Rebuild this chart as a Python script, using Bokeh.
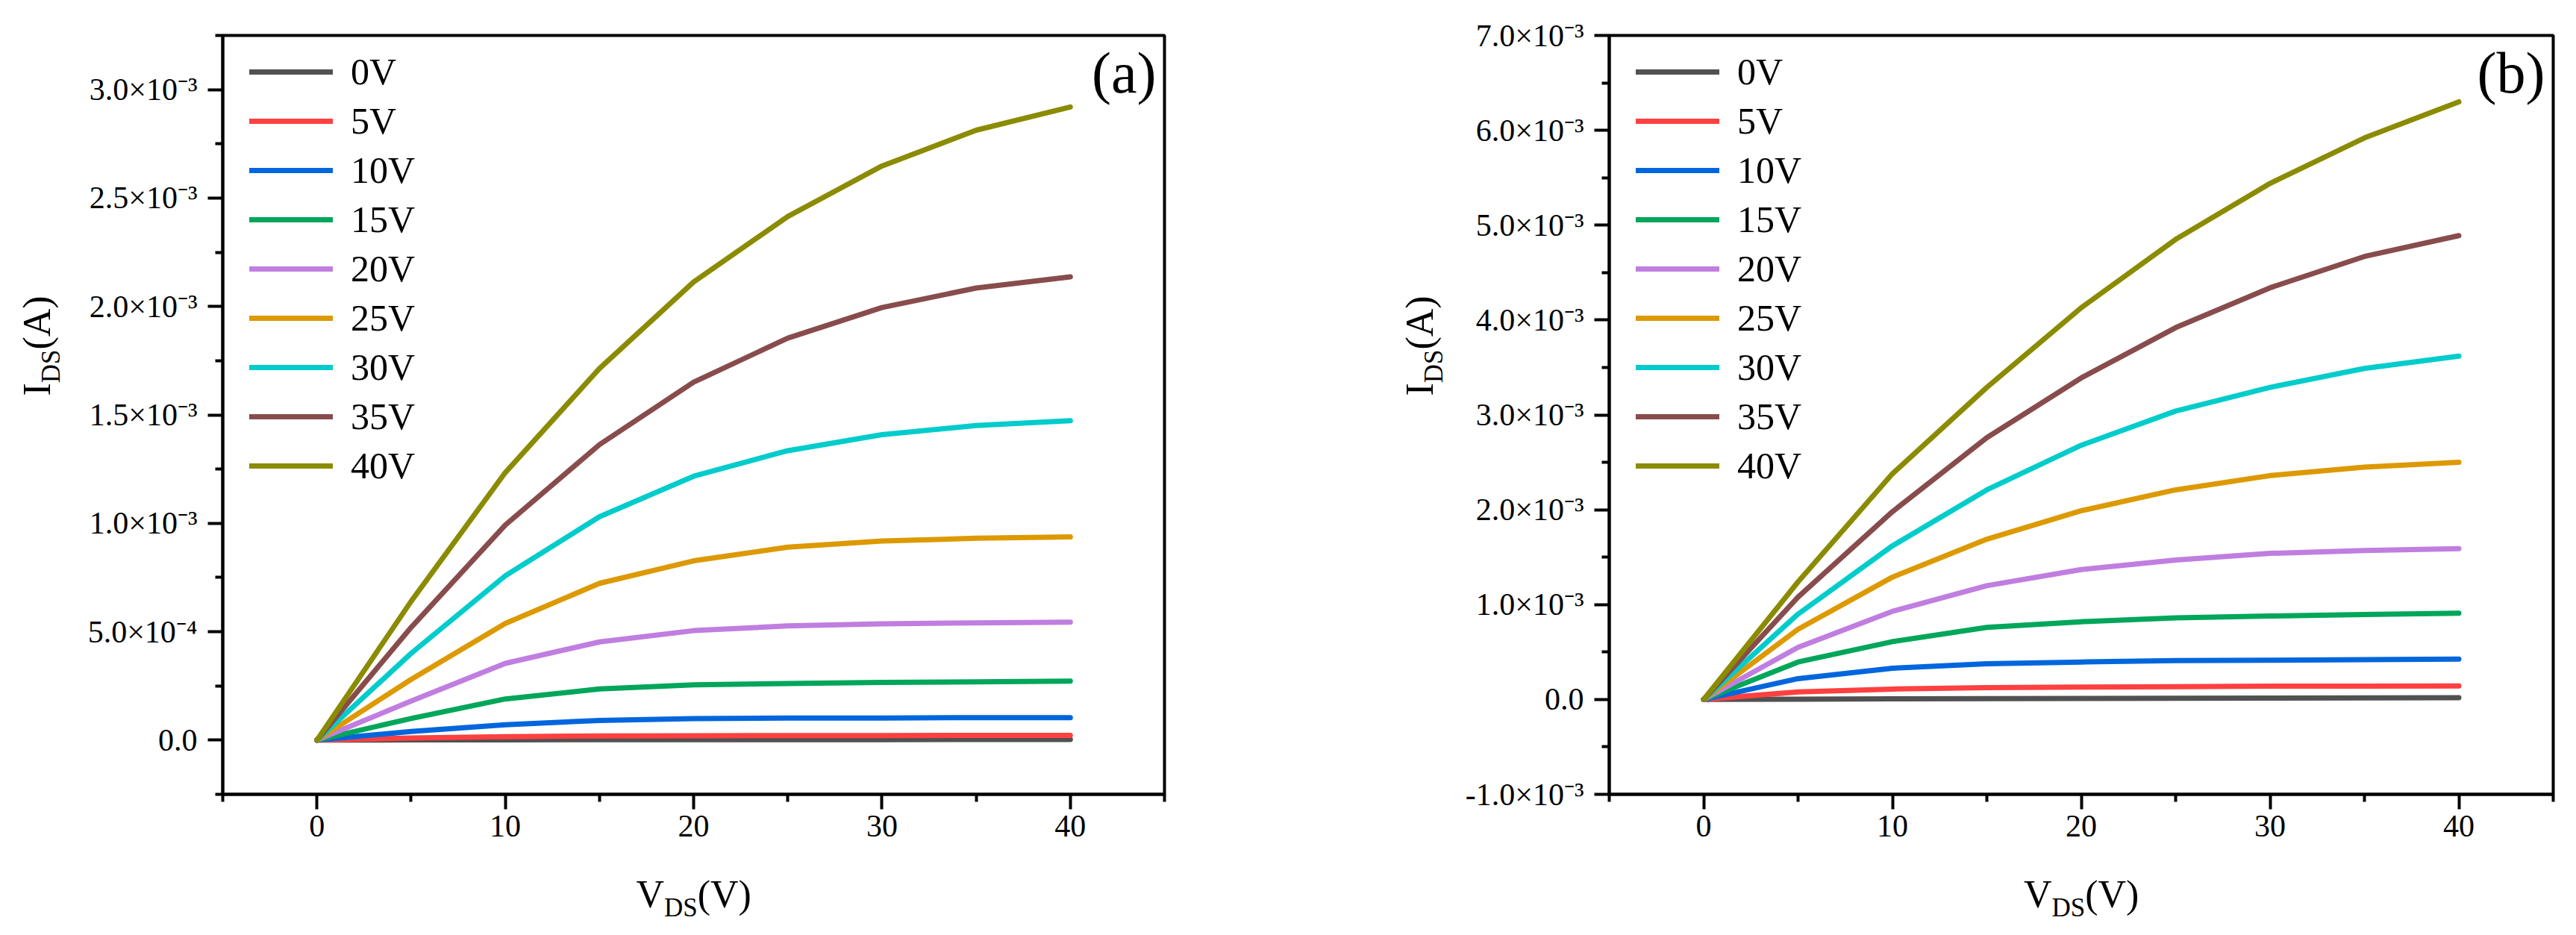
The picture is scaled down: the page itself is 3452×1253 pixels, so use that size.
import math
from bokeh.plotting import figure
from bokeh.models import Range1d, FixedTicker, Legend, LegendItem, Label
from bokeh.layouts import row, column
from bokeh.embed import file_html
from bokeh.resources import INLINE

# ---------------- data ----------------
vds = [0, 5, 10, 15, 20, 25, 30, 35, 40]
vgs_labels = ["0V", "5V", "10V", "15V", "20V", "25V", "30V", "35V", "40V"]
colors = ["#515151", "#FF4040", "#0066DD", "#00A65A", "#C07EE0",
          "#DD9900", "#00CCCC", "#884C4C", "#8B8B00"]

# panel (a) I_DS in A
a_0V = [0.0, 1.0e-6, 1.5e-6, 2.0e-6, 2.0e-6, 2.5e-6, 2.5e-6, 3.0e-6, 3.0e-6]
a_5V = [0.0, 1.0e-5, 1.6e-5, 1.9e-5, 2.0e-5, 2.1e-5, 2.1e-5, 2.2e-5, 2.2e-5]
a_10V = [0.0, 4.0e-5, 7.1e-5, 9.1e-5, 9.9e-5, 1.02e-4, 1.02e-4, 1.04e-4, 1.04e-4]
a_15V = [0.0, 1.0e-4, 1.90e-4, 2.36e-4, 2.55e-4, 2.61e-4, 2.66e-4, 2.69e-4, 2.72e-4]
a_20V = [0.0, 1.8e-4, 3.54e-4, 4.53e-4, 5.05e-4, 5.27e-4, 5.36e-4, 5.41e-4, 5.44e-4]
a_25V = [0.0, 2.8e-4, 5.38e-4, 7.23e-4, 8.27e-4, 8.90e-4, 9.18e-4, 9.31e-4, 9.37e-4]
a_30V = [0.0, 4.0e-4, 7.58e-4, 1.030e-3, 1.217e-3, 1.335e-3, 1.409e-3, 1.451e-3, 1.473e-3]
a_35V = [0.0, 5.2e-4, 9.92e-4, 1.363e-3, 1.651e-3, 1.854e-3, 1.995e-3, 2.085e-3, 2.137e-3]
a_40V = [0.0, 6.4e-4, 1.234e-3, 1.714e-3, 2.113e-3, 2.415e-3, 2.648e-3, 2.813e-3, 2.920e-3]

# panel (b) I_DS in A
b_0V = [0.0, 3.0e-6, 6.0e-6, 8.0e-6, 1.0e-5, 1.2e-5, 1.4e-5, 1.6e-5, 1.8e-5]
b_5V = [0.0, 8.0e-5, 1.10e-4, 1.25e-4, 1.30e-4, 1.35e-4, 1.40e-4, 1.40e-4, 1.42e-4]
b_10V = [0.0, 2.20e-4, 3.30e-4, 3.76e-4, 3.95e-4, 4.10e-4, 4.14e-4, 4.20e-4, 4.26e-4]
b_15V = [0.0, 3.95e-4, 6.10e-4, 7.60e-4, 8.20e-4, 8.60e-4, 8.80e-4, 8.95e-4, 9.10e-4]
b_20V = [0.0, 5.5e-4, 9.3e-4, 1.20e-3, 1.37e-3, 1.47e-3, 1.54e-3, 1.57e-3, 1.59e-3]
b_25V = [0.0, 7.4e-4, 1.29e-3, 1.69e-3, 1.99e-3, 2.21e-3, 2.36e-3, 2.45e-3, 2.50e-3]
b_30V = [0.0, 9.0e-4, 1.62e-3, 2.21e-3, 2.68e-3, 3.04e-3, 3.29e-3, 3.49e-3, 3.62e-3]
b_35V = [0.0, 1.08e-3, 1.98e-3, 2.76e-3, 3.39e-3, 3.92e-3, 4.34e-3, 4.67e-3, 4.89e-3]
b_40V = [0.0, 1.24e-3, 2.38e-3, 3.29e-3, 4.13e-3, 4.85e-3, 5.44e-3, 5.92e-3, 6.30e-3]

# axis ticks
x_major = [0, 10, 20, 30, 40]
x_minor = [-5, 5, 15, 25, 35, 45]
a_y_major = [0.0, 0.0005, 0.001, 0.0015, 0.002, 0.0025, 0.003]
a_y_labels = ["0.0", "5.0×10⁻⁴", "1.0×10⁻³", "1.5×10⁻³", "2.0×10⁻³", "2.5×10⁻³", "3.0×10⁻³"]
a_y_minor = [-0.00025, 0.00025, 0.00075, 0.00125, 0.00175, 0.00225, 0.00275, 0.00325]
b_y_major = [-0.001, 0.0, 0.001, 0.002, 0.003, 0.004, 0.005, 0.006, 0.007]
b_y_labels = ["-1.0×10⁻³", "0.0", "1.0×10⁻³", "2.0×10⁻³", "3.0×10⁻³", "4.0×10⁻³",
              "5.0×10⁻³", "6.0×10⁻³", "7.0×10⁻³"]
b_y_minor = [-0.0005, 0.0005, 0.0015, 0.0025, 0.0035, 0.0045, 0.0055, 0.0065]

FONT = "Liberation Serif"
FH = 1017          # frame height
TOP = 47           # border above frame
BOT = 100          # border below frame (tick labels)
MAIN_H = TOP + FH + BOT
XT_H = 81          # height of x-title strip


def blank_fig(w, h):
    f = figure(width=w, height=h, x_range=Range1d(0, w), y_range=Range1d(0, h),
               x_axis_type=None, y_axis_type=None, min_border=0,
               output_backend="svg", toolbar_location=None)
    f.outline_line_color = None
    f.xgrid.visible = False
    f.ygrid.visible = False
    f.background_fill_color = "white"
    f.border_fill_color = "white"
    return f


def lab(fig, x, y, text, size, angle=0.0, align="left"):
    fig.add_layout(Label(x=x, y=y, x_units="screen", y_units="screen", text=text,
                         angle=angle, text_font=FONT, text_font_size=f"{size}px",
                         text_color="black", text_align=align, text_baseline="middle"))


def make_main(series, y_lo, y_hi, y_major, y_labels, y_minor, left, fw, right, tag):
    p = figure(width=left + fw + right, height=MAIN_H,
               min_border_left=left, min_border_right=right,
               min_border_top=TOP, min_border_bottom=BOT,
               x_range=Range1d(-5, 45), y_range=Range1d(y_lo, y_hi),
               output_backend="svg", toolbar_location=None)
    p.xgrid.visible = False
    p.ygrid.visible = False
    p.background_fill_color = "white"
    p.border_fill_color = "white"
    p.outline_line_color = "black"
    p.outline_line_width = 4
    p.outline_line_alpha = 1.0

    p.xaxis.ticker = FixedTicker(ticks=x_major, minor_ticks=x_minor)
    p.yaxis.ticker = FixedTicker(ticks=y_major, minor_ticks=y_minor)
    p.yaxis.major_label_overrides = {v: s for v, s in zip(y_major, y_labels)}
    for ax in (p.xaxis[0], p.yaxis[0]):
        ax.axis_line_width = 4
        ax.axis_line_color = "black"
        ax.major_tick_line_width = 4
        ax.minor_tick_line_width = 4
        ax.major_tick_line_color = "black"
        ax.minor_tick_line_color = "black"
        ax.major_tick_in = 0
        ax.major_tick_out = 20
        ax.minor_tick_in = 0
        ax.minor_tick_out = 10
        ax.major_label_text_font = FONT
        ax.major_label_text_font_size = "42px"
        ax.major_label_text_color = "black"
    p.xaxis.major_label_standoff = 8
    p.yaxis.major_label_standoff = 14

    items = []
    for ys, lb, col in zip(series, vgs_labels, colors):
        r = p.line(vds, ys, line_color=col, line_width=7,
                   line_cap="round", line_join="round")
        items.append(LegendItem(label=lb, renderers=[r]))

    legend = Legend(items=items, location=(36, 411), padding=0, margin=0,
                    spacing=8, glyph_width=112, glyph_height=30, label_height=30,
                    label_standoff=24, label_text_font=FONT,
                    label_text_font_size="50px", label_text_color="black",
                    border_line_alpha=0, background_fill_alpha=0)
    p.add_layout(legend)

    # panel tag, e.g. "(a)"
    lab(p, fw - 11, FH - 50, tag, 78, align="right")
    return p


def y_title(width, base_x):
    f = blank_fig(width, MAIN_H)
    ang = math.pi / 2
    y0 = MAIN_H - 630          # start of text (bottom end)
    mid = base_x - 0.3375 * 52
    lab(f, mid, y0, "I", 52, angle=ang)
    lab(f, base_x + 13 - 0.3375 * 35, y0 + 17.3, "DS", 35, angle=ang)
    lab(f, mid, y0 + 17.3 + 44.7, "(A)", 52, angle=ang)
    return f


def x_title(width, center_x):
    f = blank_fig(width, XT_H)
    x0 = center_x - 77
    lab(f, x0, 47.5, "V", 52)
    lab(f, x0 + 37.5, 28.8, "DS", 35)
    lab(f, x0 + 37.5 + 44.7, 47.5, "(V)", 52)
    return f


# panel (a): starts at x=0, frame 298..1560
yt_a = y_title(110, 67)
main_a = make_main([a_0V, a_5V, a_10V, a_15V, a_20V, a_25V, a_30V, a_35V, a_40V],
                   -0.00025, 0.00325, a_y_major, a_y_labels, a_y_minor,
                   188, 1262, 166, "(a)")
xt_a = x_title(1726, 298 + 1262 / 2)

# panel (b): starts at x=1726, frame 2156..3421
yt_b = y_title(230, 194)
main_b = make_main([b_0V, b_5V, b_10V, b_15V, b_20V, b_25V, b_30V, b_35V, b_40V],
                   -0.001, 0.007, b_y_major, b_y_labels, b_y_minor,
                   200, 1265, 23, "(b)")
xt_b = x_title(1718, 430 + 1265 / 2)

col_a = column(row(yt_a, main_a), xt_a)
col_b = column(row(yt_b, main_b), xt_b)
layout = row(col_a, col_b)

open("out.html", "w").write(file_html(layout, INLINE))
